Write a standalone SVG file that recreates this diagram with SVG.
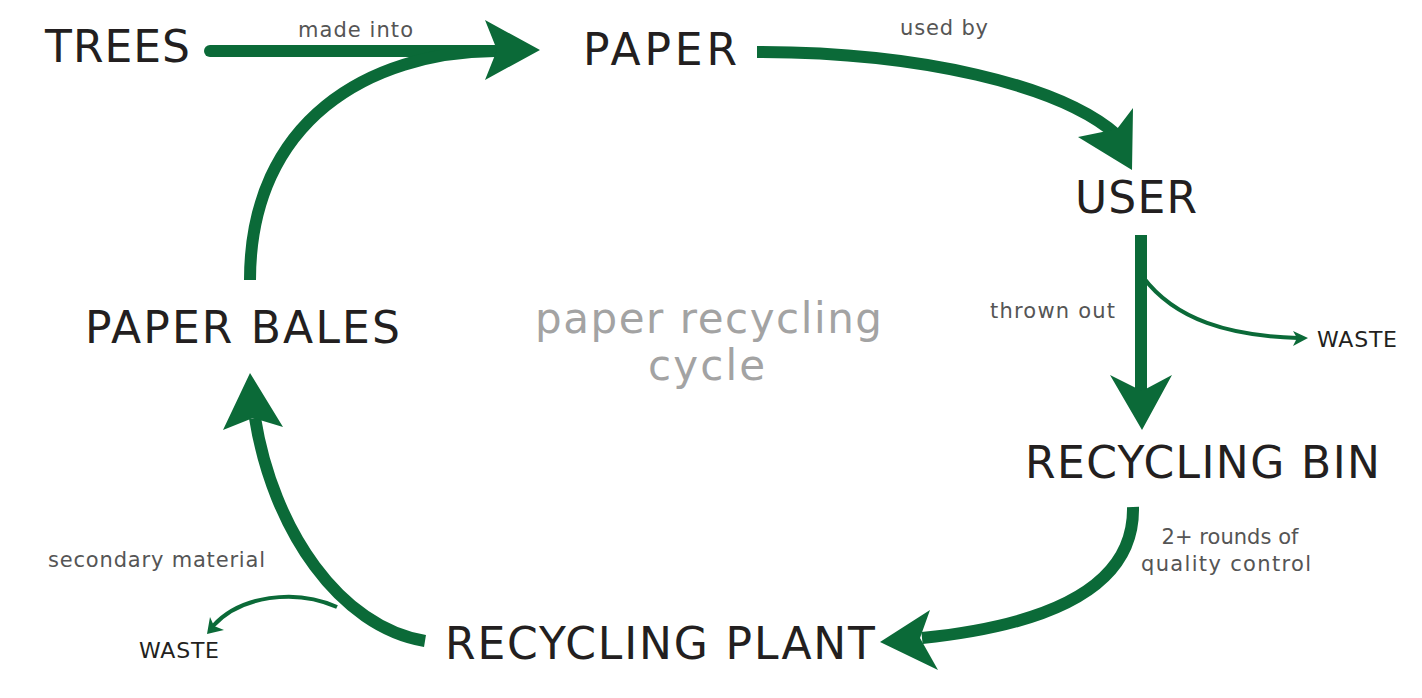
<svg xmlns="http://www.w3.org/2000/svg" width="1422" height="698" viewBox="0 0 1422 698">
<style>
.node{font-family:"DejaVu Sans","Liberation Sans",sans-serif;font-size:44px;fill:#231f20}
.lbl{font-family:"DejaVu Sans","Liberation Sans",sans-serif;font-size:21px;fill:#555}
.waste{font-family:"DejaVu Sans","Liberation Sans",sans-serif;font-size:22px;fill:#231f20}
.title{font-family:"DejaVu Sans","Liberation Sans",sans-serif;font-size:42px;fill:#a3a3a3}
.big{fill:none;stroke:#0b6a38;stroke-width:12}
.thin{fill:none;stroke:#0b6a38;stroke-width:4}
.head{fill:#0b6a38}
</style>
<rect width="1422" height="698" fill="#fff"/>
<g id="connectors">
<path class="big" d="M210,51 L495,51" stroke-width="13" stroke-linecap="round"/>
<path class="big" d="M250,280 C250,120 370,52 495,51" stroke-width="11"/>
<polygon class="head" points="540,50 485,20 497,50 485,80"/>
<path class="big" d="M757,52 C920,52 1060,85 1117,135"/>
<polygon class="head" points="1133,108 1132,170 1078,137 1117,129"/>
<path class="big" d="M1141,235 L1141,392"/>
<polygon class="head" points="1110,375 1142,430 1172,375 1142,391"/>
<path class="thin" d="M1143,277 C1175,320 1230,336 1298,338"/>
<polygon class="head" points="1308,338 1293,331 1297,338 1293,346"/>
<path class="big" d="M1133,507 C1135,600 1020,628 922,638"/>
<polygon class="head" points="880,642 930,610 920,638 938,670"/>
<path class="big" d="M425,641 C340,627 273,530 255,418" stroke-width="13"/>
<polygon class="head" points="250,373 223,430 253,418 283,427"/>
<path class="thin" d="M337,607 C295,588 240,596 213,626"/>
<polygon class="head" points="207,634 210,617 214,626 224,630"/>
<text class="lbl" x="298" y="37" textLength="115">made into</text>
<text class="lbl" x="900" y="35" textLength="88">used by</text>
<text class="lbl" x="990" y="318" textLength="125">thrown out</text>
<text class="lbl" x="1230" y="544" text-anchor="middle" textLength="137">2+ rounds of</text>
<text class="lbl" x="1226" y="571" text-anchor="middle" textLength="170">quality control</text>
<text class="lbl" x="48" y="567" textLength="217">secondary material</text>
</g>
<g id="trees"><text class="node" x="45" y="62" textLength="145">TREES</text></g>
<g id="paper"><text class="node" x="583" y="65" textLength="154">PAPER</text></g>
<g id="user"><text class="node" x="1075" y="213" textLength="122">USER</text></g>
<g id="recycling-bin"><text class="node" x="1025" y="478" textLength="355">RECYCLING BIN</text></g>
<g id="recycling-plant"><text class="node" x="445" y="659" textLength="430">RECYCLING PLANT</text></g>
<g id="paper-bales"><text class="node" x="85" y="343" textLength="315">PAPER BALES</text></g>
<g id="waste-right"><text class="waste" x="1317" y="347" textLength="80">WASTE</text></g>
<g id="waste-left"><text class="waste" x="139" y="658" textLength="80">WASTE</text></g>
<g id="title">
<text class="title" x="535" y="333" textLength="347">paper recycling</text>
<text class="title" x="648" y="380" textLength="117">cycle</text>
</g>
</svg>
